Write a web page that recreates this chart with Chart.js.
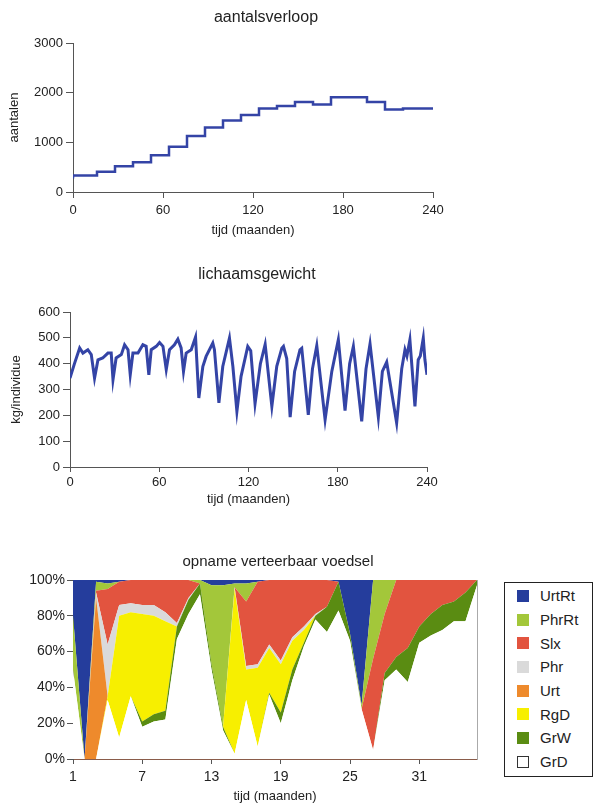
<!DOCTYPE html>
<html>
<head>
<meta charset="utf-8">
<script src="https://cdn.jsdelivr.net/npm/chart.js@4"></script>
<style>
  body { margin: 0; background: #fff; width: 599px; height: 809px; position: relative; overflow: hidden; font-family: "Liberation Sans", Arial, sans-serif; }
  canvas { position: absolute; left: 0; }
  #legend { position: absolute; left: 504px; top: 582px; width: 89px; height: 195px; border: 1px solid #222; box-sizing: border-box; padding: 1px 0 0 12px; }
  .item { height: 23.7px; display: flex; align-items: center; font-size: 15px; color: #222; }
  .swatch { width: 12px; height: 12px; margin-right: 11px; box-sizing: border-box; }
</style>
</head>
<body>
<canvas id="countChart" width="599" height="245" style="top:0"></canvas>
<canvas id="weightChart" width="599" height="265" style="top:250px"></canvas>
<canvas id="foodChart" width="500" height="269" style="top:540px"></canvas>
<div id="legend"></div>
<script>
// aantalsverloop: herd size changes once a year (month of change, new size)
const countMonths = [0, 16, 28, 40, 52, 64, 76, 88, 100, 112, 124, 136, 148, 160, 172, 196, 208, 220, 232, 240];
const countValues = [270, 330, 410, 520, 600, 740, 910, 1130, 1300, 1440, 1550, 1680, 1730, 1810, 1760, 1910, 1810, 1660, 1680, 1680];

// lichaamsgewicht: kg per individual over time
const weightMonths = [0, 3, 6.5, 8.7, 12, 14.3, 16.5, 18.8, 22, 25.5, 27.7, 28.9, 31, 34.5, 36.7, 39, 40.5, 42.3, 45.7, 49,
  51.2, 53, 54.6, 58, 60.2, 62.5, 64.7, 66.9, 70.2, 72.5, 74.7, 76.3, 78.1, 81.5, 84.4, 86.6, 89.3, 91.5, 96, 97.1,
  100.1, 102.7, 107.2, 109.5, 112.2, 115, 119.5, 121.5, 124.4, 128, 131.2, 135.7, 139, 142.4, 143.5, 145.7, 148, 151, 154.6, 155.8,
  160.2, 163, 165.9, 171.5, 176, 180.4, 184.9, 188, 190.5, 196.1, 199, 201.7, 207.3, 210, 212.9, 219.6, 223, 225.2, 226.5, 228.5,
  231.9, 234.1, 235.5, 237.5, 238.6, 240];
const weightValues = [344, 400, 461, 441, 454, 435, 344, 415, 422, 441, 441, 338, 422, 435, 473, 454, 357, 441, 441, 473,
  467, 357, 454, 467, 482, 467, 377, 454, 473, 495, 461, 370, 441, 454, 503, 267, 389, 428, 480, 454,
  248, 389, 499, 389, 215, 351, 467, 450, 245, 400, 475, 235, 390, 460, 467, 420, 193, 370, 454, 460,
  202, 380, 470, 183, 370, 493, 218, 400, 467, 177, 380, 477, 193, 370, 406, 170, 380, 454, 430, 493,
  235, 415, 430, 499, 415, 357];

// opname verteerbaar voedsel: share per food source (%), months 1..36
const foodMonths = ['1', '2', '3', '4', '5', '6', '7', '8', '9', '10', '11', '12', '13', '14', '15', '16', '17', '18',
  '19', '20', '21', '22', '23', '24', '25', '26', '27', '28', '29', '30', '31', '32', '33', '34', '35', '36'];
const grD   = [50, 0, 0, 33, 12, 35, 18, 21, 22, 67, 81, 92, 50, 16, 3, 33, 7, 36, 20, 44, 63, 78, 71, 83, 66, 28, 5, 44, 50, 43, 65, 69, 72, 77, 77, 97];
const grW   = [0, 0, 0, 0, 0, 0, 3, 4, 5, 7, 8, 6, 3, 2, 0, 0, 0, 1, 6, 6, 2, 2, 14, 16, 4, 0, 0, 4, 7, 19, 9, 12, 14, 11, 16, 3];
const rgD   = [0, 0, 0, 2, 68, 47, 60, 55, 50, 0, 0, 0, 0, 0, 92, 17, 44, 25, 27, 16, 7, 0, 0, 0, 0, 0, 0, 0, 0, 0, 0, 0, 0, 0, 0, 0];
const urt   = [0, 0, 90, 0, 0, 0, 0, 0, 0, 0, 0, 0, 0, 0, 0, 0, 0, 0, 0, 0, 0, 0, 0, 0, 0, 0, 0, 0, 0, 0, 0, 0, 0, 0, 0, 0];
const phr   = [0, 0, 3, 29, 6, 5, 5, 6, 5, 2, 1, 0, 0, 0, 1, 2, 2, 2, 2, 2, 2, 1, 0, 0, 0, 0, 0, 0, 0, 0, 0, 0, 0, 0, 0, 0];
const slx   = [0, 0, 1, 31, 13, 13, 14, 14, 18, 24, 10, 0, 0, 0, 0, 36, 46, 36, 45, 32, 26, 19, 15, 0, 0, 0, 51, 33, 43, 38, 26, 19, 14, 12, 7, 0];
const phrRt = [30, 0, 5, 3, 0, 0, 0, 0, 0, 0, 0, 2, 44, 79, 2, 10, 0, 0, 0, 0, 0, 0, 0, 0, 0, 2, 44, 19, 0, 0, 0, 0, 0, 0, 0, 0];
const urtRt = [20, 100, 1, 2, 1, 0, 0, 0, 0, 0, 0, 0, 3, 3, 2, 2, 1, 0, 0, 0, 0, 0, 0, 1, 30, 70, 0, 0, 0, 0, 0, 0, 0, 0, 0, 0];

// bottom of the stack first
const foodNames  = ['GrD', 'GrW', 'RgD', 'Urt', 'Phr', 'Slx', 'PhrRt', 'UrtRt'];
const foodSeries = [grD, grW, rgD, urt, phr, slx, phrRt, urtRt];
const foodColors = ['#ffffff', '#5a8c12', '#f7ef00', '#ee8a2c', '#dadada', '#e2543f', '#a3c73a', '#253d9c'];

Chart.defaults.font.family = "'Liberation Sans', Arial, sans-serif";
Chart.defaults.color = '#222';
Chart.defaults.animation = false;
Chart.defaults.devicePixelRatio = 1;

const axisColor = '#555';
const lineBlue = '#3444a6';

// title centred on a fixed point instead of the layout box
const plotTitle = {
  id: 'plotTitle',
  afterDraw(chart, args, opts) {
    const ctx = chart.ctx;
    ctx.save();
    ctx.font = opts.font;
    ctx.fillStyle = '#222';
    ctx.textAlign = 'center';
    ctx.textBaseline = 'middle';
    ctx.fillText(opts.text, opts.x, opts.y);
    ctx.restore();
  }
};

const axisBase = (size) => ({
  grid: { drawOnChartArea: false, drawTicks: true, tickLength: size, color: axisColor },
  border: { display: true, color: axisColor }
});

// plain numbers, no thousands separator
const plain = v => String(v);

// aantalsverloop
new Chart(document.getElementById('countChart'), {
  type: 'line',
  data: {
    datasets: [{
      data: countMonths.map((m, i) => ({ x: m, y: countValues[i] })),
      stepped: 'after',
      borderColor: lineBlue,
      borderWidth: 2.5,
      pointRadius: 0
    }]
  },
  options: {
    responsive: false,
    layout: { padding: { left: 0, right: 166, top: 43, bottom: 0 } },
    plugins: {
      legend: { display: false },
      tooltip: { enabled: false },
      plotTitle: { text: 'aantalsverloop', x: 266, y: 18, font: "16px 'Liberation Sans', Arial, sans-serif" }
    },
    scales: {
      x: {
        type: 'linear', min: 0, max: 240,
        ...axisBase(6),
        ticks: { stepSize: 60, padding: 5, font: { size: 13 }, callback: plain },
        title: { display: true, text: 'tijd (maanden)', font: { size: 13 }, padding: { top: 0, bottom: 7 } },
        afterFit: s => { s.height = 53; }
      },
      y: {
        min: 0, max: 3000,
        ...axisBase(7),
        ticks: { stepSize: 1000, padding: 3, font: { size: 13 }, callback: plain },
        title: { display: true, text: 'aantalen', font: { size: 13 }, padding: { top: 7, bottom: 0 } },
        afterFit: s => { s.width = 73; }
      }
    }
  },
  plugins: [plotTitle]
});

// lichaamsgewicht
new Chart(document.getElementById('weightChart'), {
  type: 'line',
  data: {
    datasets: [{
      data: weightMonths.map((m, i) => ({ x: m, y: weightValues[i] })),
      borderColor: lineBlue,
      borderWidth: 3,
      pointRadius: 0,
      tension: 0
    }]
  },
  options: {
    responsive: false,
    layout: { padding: { left: 0, right: 172, top: 62, bottom: 0 } },
    plugins: {
      legend: { display: false },
      tooltip: { enabled: false },
      plotTitle: { text: 'lichaamsgewicht', x: 257, y: 25, font: "16px 'Liberation Sans', Arial, sans-serif" }
    },
    scales: {
      x: {
        type: 'linear', min: 0, max: 240,
        ...axisBase(5),
        ticks: { stepSize: 60, padding: 3, font: { size: 13 }, callback: plain },
        title: { display: true, text: 'tijd (maanden)', font: { size: 13 }, padding: { top: 0, bottom: 8 } },
        afterFit: s => { s.height = 48; }
      },
      y: {
        min: 0, max: 600,
        ...axisBase(7),
        ticks: { stepSize: 100, padding: 3, font: { size: 13 }, callback: plain },
        title: { display: true, text: 'kg/individue', font: { size: 13 }, padding: { top: 9, bottom: 0 } },
        afterFit: s => { s.width = 70; }
      }
    }
  },
  plugins: [plotTitle]
});

// opname verteerbaar voedsel (100% stacked areas)
new Chart(document.getElementById('foodChart'), {
  type: 'line',
  data: {
    labels: foodMonths,
    datasets: foodSeries.map((values, i) => ({
      label: foodNames[i],
      data: values,
      backgroundColor: foodColors[i],
      borderWidth: 0,
      pointRadius: 0,
      tension: 0,
      fill: i === 0 ? 'origin' : '-1'
    }))
  },
  options: {
    responsive: false,
    layout: { padding: { left: 0, right: 23, top: 40, bottom: 0 } },
    plugins: {
      legend: { display: false },
      tooltip: { enabled: false },
      plotTitle: { text: 'opname verteerbaar voedsel', x: 278, y: 22, font: "15px 'Liberation Sans', Arial, sans-serif" }
    },
    scales: {
      x: {
        grid: {
          drawOnChartArea: false, tickLength: 5,
          tickColor: ctx => ctx.index % 6 === 0 ? axisColor : 'rgba(0,0,0,0)'
        },
        border: { display: true, color: '#8a5c4a' },
        ticks: {
          autoSkip: false, maxRotation: 0, padding: 5, font: { size: 14 },
          callback: (v, i) => i % 6 === 0 ? foodMonths[i] : ''
        },
        title: { display: true, text: 'tijd (maanden)', font: { size: 13 }, padding: { top: 0, bottom: 5 } },
        afterFit: s => { s.height = 50; }
      },
      y: {
        stacked: true, min: 0, max: 100,
        ...axisBase(6),
        ticks: { stepSize: 20, padding: 2, font: { size: 14 }, callback: v => v + '%' },
        afterFit: s => { s.width = 73; }
      },
      y1: {
        position: 'right',
        grid: { display: false },
        ticks: { display: false },
        border: { display: true, color: '#aaa' },
        afterFit: s => { s.width = 0; }
      }
    }
  },
  plugins: [plotTitle]
});

// legend box, top of the stack listed first
const legend = document.getElementById('legend');
foodNames.slice().reverse().forEach((name, k) => {
  const i = foodNames.length - 1 - k;
  const item = document.createElement('div');
  item.className = 'item';
  const sw = document.createElement('span');
  sw.className = 'swatch';
  sw.style.background = foodColors[i];
  if (foodColors[i] === '#ffffff') sw.style.border = '1px solid #333';
  item.appendChild(sw);
  item.appendChild(document.createTextNode(name));
  legend.appendChild(item);
});
</script>
</body>
</html>
